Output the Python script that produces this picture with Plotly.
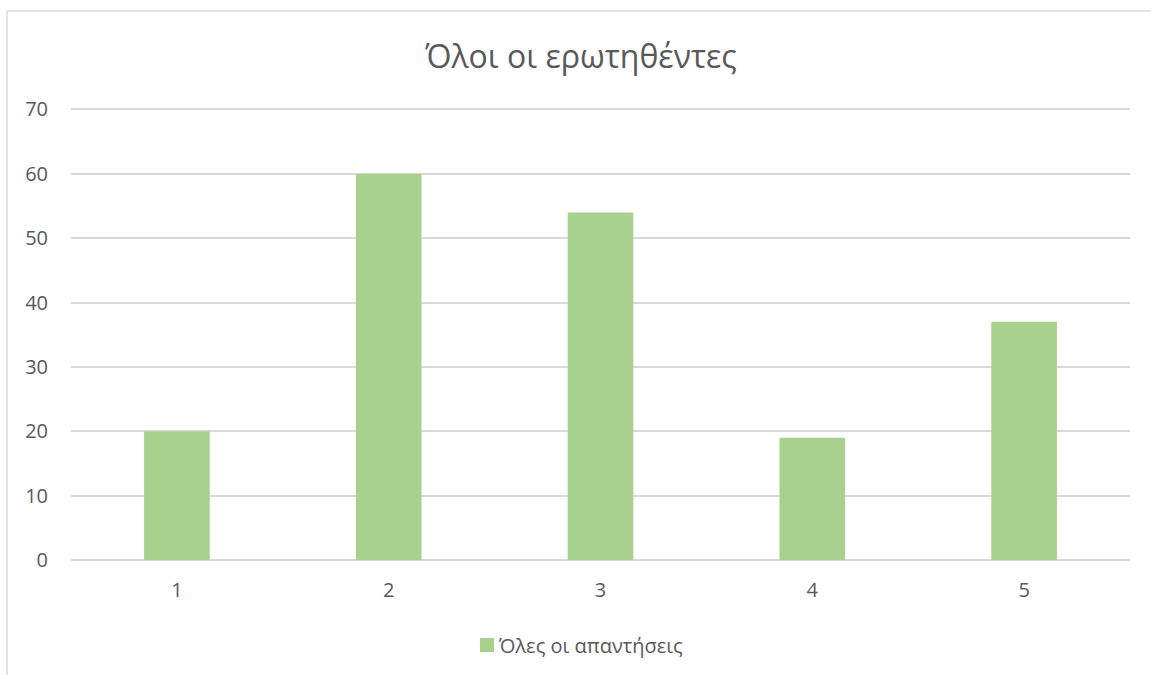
import plotly.graph_objects as go

categories = ["1", "2", "3", "4", "5"]
values = [20, 60, 54, 19, 37]
series_name = "Όλες οι απαντήσεις"
title_text = "Όλοι οι ερωτηθέντες"
y_ticks = [0, 10, 20, 30, 40, 50, 60, 70]

W, H = 1151, 675
L, R, T, B = 71, 21, 103, 115
pw, ph = W - L - R, H - T - B

FONT = "Open Sans"
GRAY = "#595959"
BAR = "#A9D18E"
LINE = "#D9D9D9"

fig = go.Figure()
fig.add_trace(go.Bar(x=categories, y=values, name=series_name, showlegend=False,
                     marker=dict(color=BAR, line=dict(width=0))))

def px_x(p):
    return (p - L) / pw

def px_y(p):
    return (H - B - p) / ph

# chart border (left and top edges visible)
bx, by = px_x(7), px_y(11)
fig.add_shape(type="line", xref="paper", yref="paper", x0=bx, x1=bx, y0=by, y1=-0.5,
              line=dict(color=LINE, width=1.5))
fig.add_shape(type="line", xref="paper", yref="paper", x0=bx, x1=1.2, y0=by, y1=by,
              line=dict(color=LINE, width=1.5))

# custom legend: swatch + text
fig.add_shape(type="rect", xref="paper", yref="paper",
              x0=px_x(480), x1=px_x(494), y0=px_y(652), y1=px_y(638),
              line=dict(width=0), fillcolor=BAR)
fig.add_annotation(text=series_name, xref="paper", yref="paper",
                   x=px_x(496), y=px_y(645), xanchor="left", yanchor="middle",
                   showarrow=False, font=dict(family=FONT, size=20, color=GRAY))

fig.update_layout(
    width=W, height=H,
    margin=dict(l=L, r=R, t=T, b=B),
    paper_bgcolor="white", plot_bgcolor="white",
    bargap=0.69,
    showlegend=False,
    title=dict(text=title_text, x=581 / W, xanchor="center", xref="container",
               y=1 - 57 / H, yanchor="middle", yref="container",
               font=dict(family=FONT, size=32, color=GRAY)),
    font=dict(family=FONT, color=GRAY),
    xaxis=dict(showgrid=False, showline=False, ticks="", tickfont=dict(size=20, color=GRAY),
               ticklabelstandoff=16),
    yaxis=dict(range=[0, 71], tickvals=y_ticks, showgrid=True, gridcolor=LINE,
               gridwidth=1.5, zeroline=True, zerolinecolor=LINE, zerolinewidth=1.5,
               showline=False, ticks="", tickfont=dict(size=20, color=GRAY),
               ticklabelstandoff=22),
)

fig.write_html("out.html")
